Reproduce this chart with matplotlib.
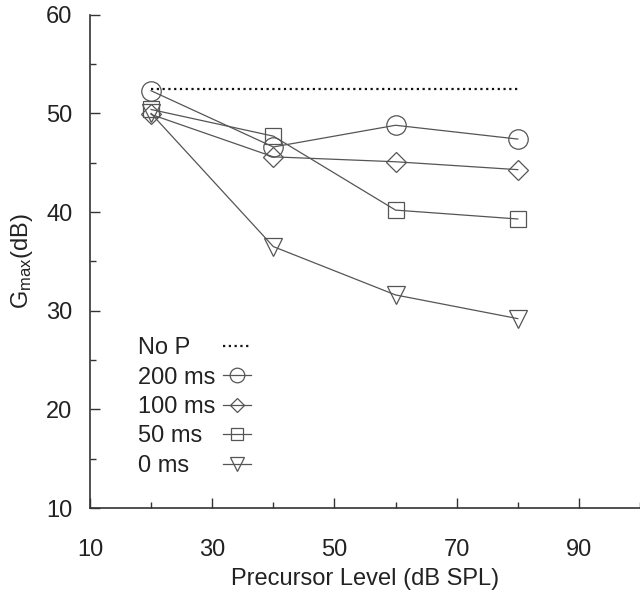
import matplotlib
matplotlib.use("Agg")
import matplotlib.pyplot as plt
from matplotlib.ticker import MultipleLocator

plt.rcParams["font.family"] = ["Liberation Sans", "DejaVu Sans"]
plt.rcParams["mathtext.default"] = "regular"

# Data
levels = [20, 40, 60, 80]
no_p_level = 52.5
gmax_200 = [52.3, 46.6, 48.8, 47.4]
gmax_100 = [49.9, 45.6, 45.1, 44.3]
gmax_50 = [50.4, 47.7, 40.2, 39.3]
gmax_0 = [50.0, 36.5, 31.6, 29.2]

series = [
    ("200 ms", gmax_200, "o", 14),
    ("100 ms", gmax_100, "D", 10),
    ("50 ms", gmax_50, "s", 12),
    ("0 ms", gmax_0, "v", 13),
]

LINE_COLOR = "#555555"

fig = plt.figure(figsize=(6.4, 5.91), dpi=100)
ax = fig.add_axes([0.1406, 0.1404, 0.8594, 0.8346])

# No precursor reference
ax.plot([levels[0], levels[-1]], [no_p_level, no_p_level], color="#111111",
        linestyle=(0, (1, 1.6)), linewidth=1.6, label="No P")

for label, values, marker, size in series:
    ax.plot(levels, values, color=LINE_COLOR, linewidth=0.9, marker=marker,
            markersize=size, markerfacecolor="none", markeredgecolor=LINE_COLOR,
            markeredgewidth=0.9, label=label)

ax.set_xlim(10, 100)
ax.set_ylim(10, 60)
ax.xaxis.set_major_locator(MultipleLocator(20))
ax.xaxis.set_minor_locator(MultipleLocator(10))
ax.yaxis.set_major_locator(MultipleLocator(10))
ax.yaxis.set_minor_locator(MultipleLocator(5))
ax.set_xticks([10, 30, 50, 70, 90])
ax.tick_params(which="both", direction="in", colors="#333333", labelcolor="#222222",
               labelsize=17, width=1.0)
ax.tick_params(which="major", length=7)
ax.tick_params(which="minor", length=4)
ax.tick_params(axis="x", which="major", pad=22)
ax.tick_params(axis="y", which="major", pad=12.5)

for side in ["top", "right"]:
    ax.spines[side].set_visible(False)
for side in ["left", "bottom"]:
    ax.spines[side].set_color("#333333")
    ax.spines[side].set_linewidth(1.2)

ax.set_xlabel("Precursor Level (dB SPL)", fontsize=17, color="#222222", labelpad=5.5)
ax.set_ylabel("G$_{max}$(dB)", fontsize=17, color="#222222", labelpad=8)

leg = ax.legend(loc="lower left", bbox_to_anchor=(0.049, 0.02), frameon=False,
                markerfirst=False, fontsize=17, handlelength=1.2,
                handletextpad=0.3, labelspacing=0.315, markerscale=0.75)

# left-align the labels while keeping the samples in one column
fig.canvas.draw()
renderer = fig.canvas.get_renderer()
widths = [t.get_window_extent(renderer).width for t in leg.get_texts()]
max_w = max(widths)
for t, w in zip(leg.get_texts(), widths):
    t.set_color("#222222")
    t.set_x(-(max_w - w))

fig.savefig("out.png", dpi=100)
